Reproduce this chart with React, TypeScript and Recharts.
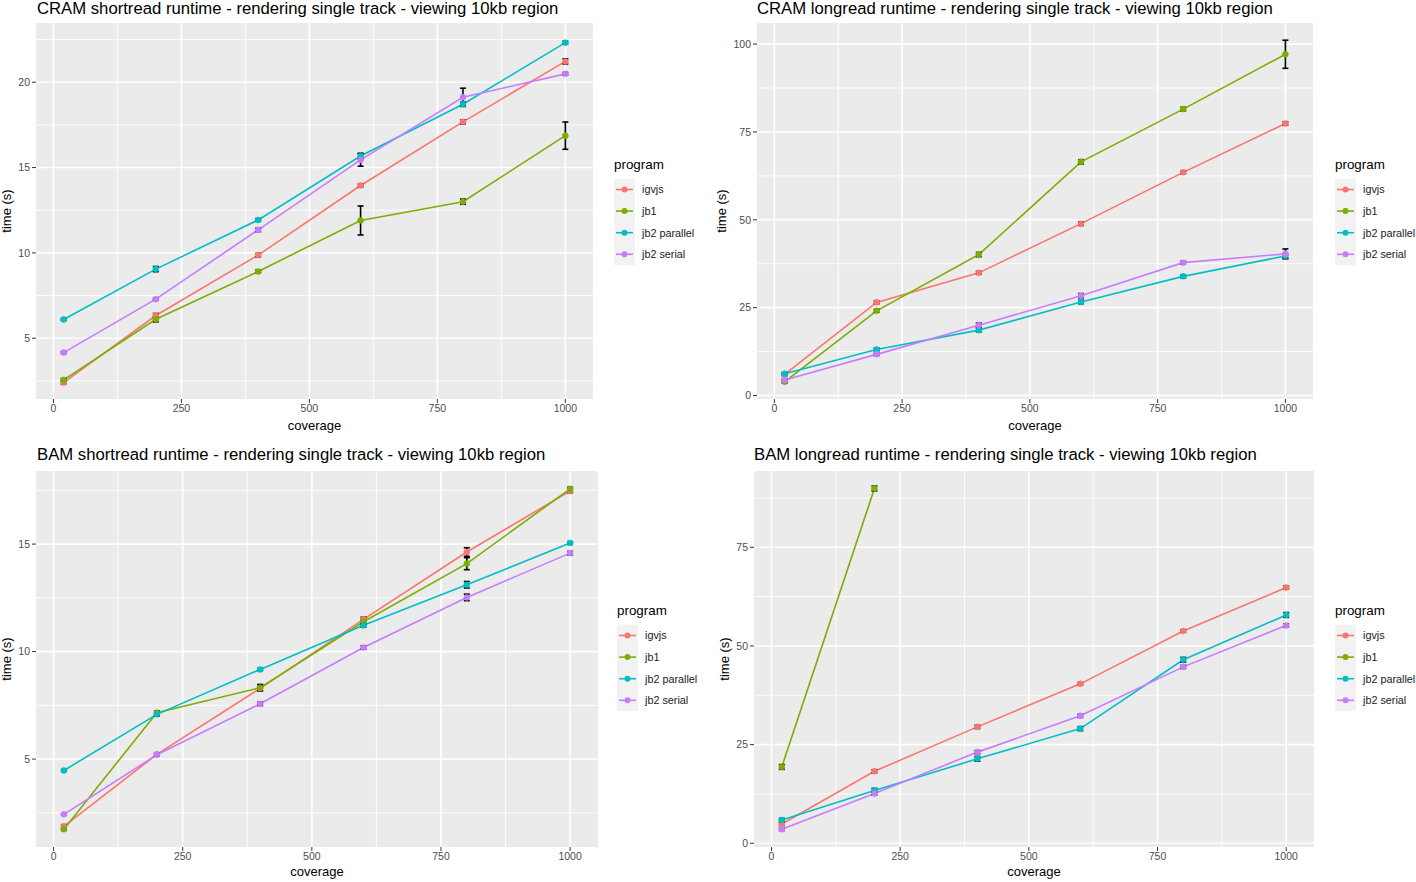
import { LineChart, Line, XAxis, YAxis, CartesianGrid, ErrorBar } from 'recharts'

const FONT = '"Liberation Sans", Arial, Helvetica, sans-serif'

const coverage = [20, 200, 400, 600, 800, 1000]
const programs = ['igvjs', 'jb1', 'jb2 parallel', 'jb2 serial']
const colors = ['#F8766D', '#7CAE00', '#00BFC4', '#C77CFF']

const xTicks = [0, 250, 500, 750, 1000]
const xMinor = [125, 375, 625, 875]
const xDomain: [number, number] = [-34, 1054]

// CRAM shortread
const cramShortIgvjs = [2.4, 6.33, 9.87, 13.95, 17.68, 21.22]
const cramShortJb1 = [2.56, 6.11, 8.91, 11.9, 13.0, 16.87]
const cramShortParallel = [6.1, 9.05, 11.93, 15.68, 18.71, 22.32]
const cramShortSerial = [4.16, 7.29, 11.35, 15.45, 19.12, 20.49]
const cramShortIgvjsErr = [0.08, 0.12, 0.1, 0.08, 0.12, 0.15]
const cramShortJb1Err = [0.08, 0.15, 0.08, 0.85, 0.15, 0.8]
const cramShortParallelErr = [0.05, 0.15, 0.08, 0.15, 0.12, 0.08]
const cramShortSerialErr = [0.06, 0.06, 0.1, 0.37, 0.53, 0.08]

// CRAM longread
const cramLongIgvjs = [6.0, 26.5, 34.9, 48.9, 63.5, 77.4]
const cramLongJb1 = [3.9, 24.1, 40.1, 66.5, 81.5, 97.1]
const cramLongParallel = [6.2, 13.1, 18.6, 26.6, 33.9, 39.7]
const cramLongSerial = [4.4, 11.7, 20.0, 28.4, 37.8, 40.3]
const cramLongIgvjsErr = [0.4, 0.4, 0.4, 0.5, 0.4, 0.5]
const cramLongJb1Err = [0.4, 0.4, 0.6, 0.6, 0.5, 4.0]
const cramLongParallelErr = [0.3, 0.4, 0.5, 0.5, 0.4, 0.6]
const cramLongSerialErr = [0.3, 0.3, 0.6, 0.6, 0.4, 1.4]

// BAM shortread
const bamShortIgvjs = [1.87, 5.22, 8.29, 11.5, 14.63, 17.47]
const bamShortJb1 = [1.74, 7.16, 8.32, 11.39, 14.09, 17.57]
const bamShortParallel = [4.47, 7.08, 9.17, 11.22, 13.11, 15.05]
const bamShortSerial = [2.43, 5.2, 7.57, 10.19, 12.52, 14.58]
const bamShortIgvjsErr = [0.08, 0.06, 0.1, 0.1, 0.2, 0.08]
const bamShortJb1Err = [0.06, 0.08, 0.15, 0.12, 0.28, 0.08]
const bamShortParallelErr = [0.04, 0.08, 0.05, 0.08, 0.15, 0.06]
const bamShortSerialErr = [0.04, 0.06, 0.08, 0.08, 0.15, 0.08]

// BAM longread (jb1 only finished the two lowest coverages)
const bamLongIgvjs = [4.9, 18.24, 29.5, 40.4, 53.8, 64.8]
const bamLongJb1 = [19.34, 89.9, null, null, null, null]
const bamLongParallel = [5.9, 13.4, 21.4, 29.05, 46.5, 57.85]
const bamLongSerial = [3.55, 12.6, 23.1, 32.3, 44.7, 55.2]
const bamLongIgvjsErr = [0.4, 0.4, 0.4, 0.3, 0.3, 0.4]
const bamLongJb1Err = [0.6, 0.6, null, null, null, null]
const bamLongParallelErr = [0.4, 0.5, 0.6, 0.5, 0.6, 0.6]
const bamLongSerialErr = [0.3, 0.4, 0.4, 0.4, 0.4, 0.4]

type Row = { coverage: number; t: number; err: number }

function toRows(values: (number | null)[], errs: (number | null)[]): Row[] {
  return coverage.flatMap((c, i) =>
    values[i] == null ? [] : [{ coverage: c, t: values[i] as number, err: errs[i] ?? 0 }],
  )
}

type PanelProps = {
  left: number
  top: number
  width: number
  height: number
  yAxisWidth: number
  marginTop: number
  xAxisHeight: number
  yDomain: [number, number]
  yTicks: number[]
  yMinor: number[]
  series: Row[][]
}

const tickStyle = { fontSize: 10.5, fill: '#4D4D4D', fontFamily: FONT }

function Panel(p: PanelProps) {
  return (
    <div style={{ position: 'absolute', left: p.left, top: p.top }}>
      <LineChart
        width={p.width}
        height={p.height}
        margin={{ top: p.marginTop, right: 7, bottom: 0, left: 0 }}
      >
        <XAxis
          type="number"
          dataKey="coverage"
          domain={xDomain}
          allowDataOverflow
          ticks={xTicks}
          height={p.xAxisHeight}
          tick={tickStyle}
          tickLine={{ stroke: '#333' }}
          tickSize={4}
          tickMargin={2}
          axisLine={false}
        />
        <YAxis
          type="number"
          domain={p.yDomain}
          allowDataOverflow
          ticks={p.yTicks}
          width={p.yAxisWidth}
          tick={tickStyle}
          tickLine={{ stroke: '#333' }}
          tickSize={4}
          tickMargin={2}
          axisLine={false}
        />
        <CartesianGrid
          fill="#EBEBEB"
          fillOpacity={1}
          stroke="#FFFFFF"
          strokeWidth={0.9}
          horizontalValues={p.yMinor}
          verticalValues={xMinor}
        />
        <CartesianGrid
          stroke="#FFFFFF"
          strokeWidth={1.6}
          horizontalValues={p.yTicks}
          verticalValues={xTicks}
        />
        {p.series.map((rows, i) => (
          <Line
            key={programs[i]}
            name={programs[i]}
            data={rows}
            dataKey="t"
            type="linear"
            stroke={colors[i]}
            strokeWidth={1.6}
            dot={{ r: 3, fill: colors[i], stroke: colors[i], strokeWidth: 0.5 }}
            activeDot={false}
            isAnimationActive={false}
          />
        ))}
        {p.series.map((rows, i) => (
          <Line
            key={programs[i] + '-err'}
            data={rows}
            dataKey="t"
            stroke="none"
            dot={false}
            activeDot={false}
            legendType="none"
            isAnimationActive={false}
          >
            <ErrorBar dataKey="err" direction="y" width={3} stroke="#000" strokeWidth={1.6} />
          </Line>
        ))}
      </LineChart>
    </div>
  )
}

function Legend({ x, y }: { x: number; y: number }) {
  return (
    <g>
      <text x={x} y={y} fontSize={13.4} fill="#000">program</text>
      <rect x={x} y={y + 9.7} width={21} height={86.4} fill="#F2F2F2" />
      {programs.map((name, i) => {
        const cy = y + 20.5 + i * 21.6
        return (
          <g key={name}>
            <line x1={x + 2} x2={x + 19} y1={cy} y2={cy} stroke={colors[i]} strokeWidth={1.6} />
            <circle cx={x + 10.5} cy={cy} r={3} fill={colors[i]} />
            <text x={x + 28} y={cy + 3.9} fontSize={10.8} fill="#1A1A1A">{name}</text>
          </g>
        )
      })}
    </g>
  )
}

function YTitle({ x, y }: { x: number; y: number }) {
  return (
    <text x={x} y={y} transform={`rotate(-90 ${x} ${y})`} textAnchor="middle" fontSize={13} fill="#000">
      time (s)
    </text>
  )
}

function XTitle({ x, y }: { x: number; y: number }) {
  return (
    <text x={x} y={y} textAnchor="middle" fontSize={13} fill="#000">
      coverage
    </text>
  )
}

export default function App() {
  const cramShort = [
    toRows(cramShortIgvjs, cramShortIgvjsErr),
    toRows(cramShortJb1, cramShortJb1Err),
    toRows(cramShortParallel, cramShortParallelErr),
    toRows(cramShortSerial, cramShortSerialErr),
  ]
  const cramLong = [
    toRows(cramLongIgvjs, cramLongIgvjsErr),
    toRows(cramLongJb1, cramLongJb1Err),
    toRows(cramLongParallel, cramLongParallelErr),
    toRows(cramLongSerial, cramLongSerialErr),
  ]
  const bamShort = [
    toRows(bamShortIgvjs, bamShortIgvjsErr),
    toRows(bamShortJb1, bamShortJb1Err),
    toRows(bamShortParallel, bamShortParallelErr),
    toRows(bamShortSerial, bamShortSerialErr),
  ]
  const bamLong = [
    toRows(bamLongIgvjs, bamLongIgvjsErr),
    toRows(bamLongJb1, bamLongJb1Err),
    toRows(bamLongParallel, bamLongParallelErr),
    toRows(bamLongSerial, bamLongSerialErr),
  ]

  return (
    <div
      style={{
        position: 'absolute',
        left: 0,
        top: 0,
        width: 1416,
        height: 882,
        background: '#fff',
        fontFamily: FONT,
        overflow: 'hidden',
      }}
    >
      <Panel
        left={0} top={0} width={600} height={440}
        yAxisWidth={36} marginTop={23} xAxisHeight={41}
        yDomain={[1.44, 23.47]} yTicks={[5, 10, 15, 20]} yMinor={[2.5, 7.5, 12.5, 17.5, 22.5]}
        series={cramShort}
      />
      <Panel
        left={720} top={0} width={600} height={440}
        yAxisWidth={37} marginTop={23} xAxisHeight={41}
        yDomain={[-1, 106]} yTicks={[0, 25, 50, 75, 100]} yMinor={[12.5, 37.5, 62.5, 87.5]}
        series={cramLong}
      />
      <Panel
        left={0} top={440} width={605} height={442}
        yAxisWidth={36} marginTop={31} xAxisHeight={35}
        yDomain={[0.91, 18.4]} yTicks={[5, 10, 15]} yMinor={[2.5, 7.5, 12.5, 17.5]}
        series={bamShort}
      />
      <Panel
        left={720} top={440} width={601} height={442}
        yAxisWidth={34} marginTop={31} xAxisHeight={35}
        yDomain={[-0.94, 94.33]} yTicks={[0, 25, 50, 75]} yMinor={[12.5, 37.5, 62.5, 87.5]}
        series={bamLong}
      />
      <svg
        width={1416}
        height={882}
        style={{ position: 'absolute', left: 0, top: 0, pointerEvents: 'none', fontFamily: FONT }}
      >
        <text x={37} y={13.5} fontSize={16.7} fill="#000">
          CRAM shortread runtime - rendering single track - viewing 10kb region
        </text>
        <text x={757} y={13.5} fontSize={16.7} fill="#000">
          CRAM longread runtime - rendering single track - viewing 10kb region
        </text>
        <text x={37} y={459.5} fontSize={16.7} fill="#000">
          BAM shortread runtime - rendering single track - viewing 10kb region
        </text>
        <text x={754} y={459.5} fontSize={16.7} fill="#000">
          BAM longread runtime - rendering single track - viewing 10kb region
        </text>
        <XTitle x={314.5} y={430} />
        <XTitle x={1035} y={430} />
        <XTitle x={317} y={876} />
        <XTitle x={1034} y={876} />
        <YTitle x={11} y={211} />
        <YTitle x={725.5} y={211} />
        <YTitle x={11} y={659} />
        <YTitle x={729} y={659} />
        <Legend x={614} y={169} />
        <Legend x={1335} y={169} />
        <Legend x={617} y={615} />
        <Legend x={1335} y={615} />
      </svg>
    </div>
  )
}
